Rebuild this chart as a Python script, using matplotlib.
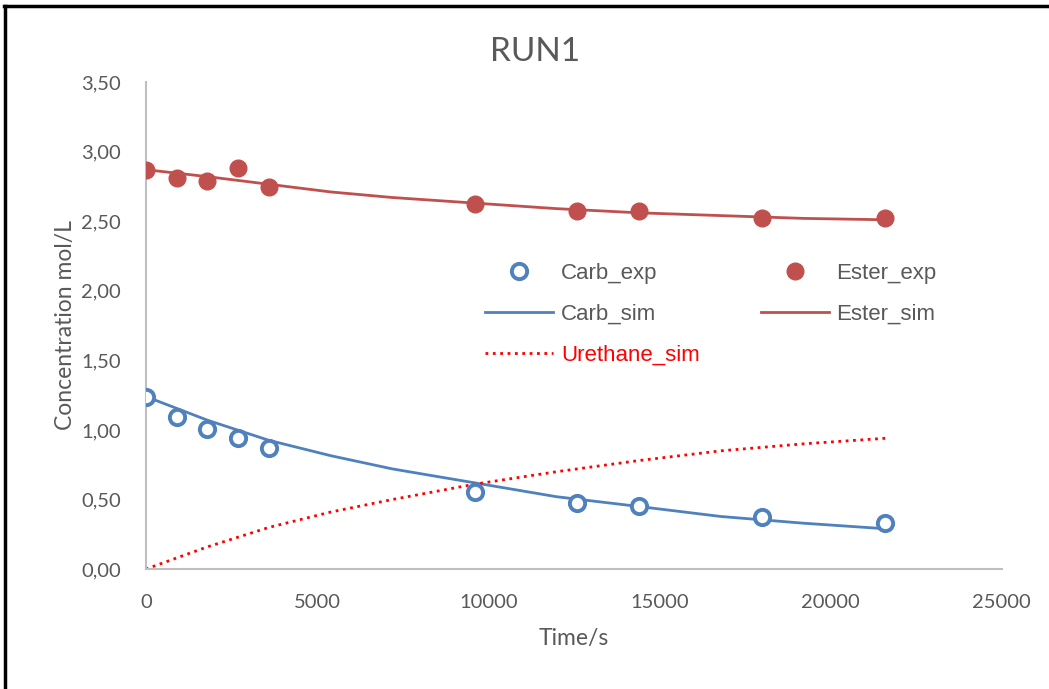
import matplotlib
matplotlib.use('Agg')
import matplotlib.pyplot as plt
from matplotlib.lines import Line2D
from matplotlib.ticker import FuncFormatter

plt.rcParams['font.family'] = ['Lato', 'DejaVu Sans']

# experimental points (time in s)
t_exp = [0, 900, 1800, 2700, 3600, 9600, 12600, 14400, 18000, 21600]
carb_exp = [1.237, 1.093, 1.006, 0.942, 0.870, 0.554, 0.474, 0.453, 0.374, 0.331]
ester_exp = [2.868, 2.811, 2.789, 2.883, 2.746, 2.624, 2.574, 2.574, 2.523, 2.523]

# simulated curves
t_sim = [0, 1800, 3600, 5400, 7200, 9600, 12000, 14400, 16800, 19200, 21600]
carb_sim = [1.24, 1.07, 0.925, 0.815, 0.72, 0.62, 0.52, 0.45, 0.378, 0.33, 0.29]
ester_sim = [2.87, 2.82, 2.765, 2.71, 2.67, 2.63, 2.59, 2.56, 2.54, 2.52, 2.51]
ureth_sim = [0.0, 0.16, 0.30, 0.41, 0.50, 0.61, 0.70, 0.78, 0.85, 0.90, 0.94]

BLUE = '#4f81bd'
RED = '#c0504d'
GREY_TXT = '#595959'

fig = plt.figure(figsize=(10.49, 6.89), dpi=100)
ax = fig.add_axes([0.139, 0.174, 0.816, 0.707])

ax.plot(t_exp, carb_exp, 'o', mfc='white', mec=BLUE, mew=2.8, ms=11, label='Carb_exp', zorder=4)
ax.plot(t_sim, carb_sim, '-', color=BLUE, lw=2, label='Carb_sim')
ax.plot(t_sim, ureth_sim, ':', color='#ff0000', lw=2, label='Urethane_sim')
ax.plot(t_exp, ester_exp, 'o', color=RED, ms=12, label='Ester_exp', zorder=4)
ax.plot(t_sim, ester_sim, '-', color=RED, lw=2, label='Ester_sim')

ax.set_xlim(0, 25000)
ax.set_ylim(0, 3.5)
ax.set_xticks(range(0, 25001, 5000))
ax.set_yticks([i * 0.5 for i in range(8)])
ax.yaxis.set_major_formatter(FuncFormatter(lambda v, p: f'{v:.2f}'.replace('.', ',')))

for s in ['top', 'right']:
    ax.spines[s].set_visible(False)
for s in ['left', 'bottom']:
    ax.spines[s].set_color('#bfbfbf')
    ax.spines[s].set_linewidth(1.5)
ax.tick_params(length=0, labelsize=14.5, colors=GREY_TXT)
ax.tick_params(axis='x', pad=18)
ax.tick_params(axis='y', pad=18)
ax.margins(0)

fig.text(0.51, 0.924, 'RUN1', fontsize=24, color=GREY_TXT, ha='center', va='center')
ax.set_xlabel('Time/s', fontsize=16.5, color=GREY_TXT, labelpad=12)
ax.set_ylabel('Concentration mol/L', fontsize=16.5, color=GREY_TXT, labelpad=4)

leg = ax.legend(ncol=2, loc='upper left', bbox_to_anchor=(0.373, 0.669),
                frameon=False, prop={'family': 'Liberation Sans', 'size': 16},
                handlelength=3.05, handletextpad=0.36, columnspacing=2.75,
                labelspacing=0.88)
for txt in leg.get_texts():
    txt.set_color(GREY_TXT)
    if txt.get_text() == 'Urethane_sim':
        txt.set_color('#ff0000')

# black border remnants on left and top
fig.add_artist(Line2D([0.005, 0.005], [0, 0.992], transform=fig.transFigure, color='black', lw=2.5))
fig.add_artist(Line2D([0.004, 1.0], [0.992, 0.992], transform=fig.transFigure, color='black', lw=2.5))

fig.savefig('out.png', dpi=100)
